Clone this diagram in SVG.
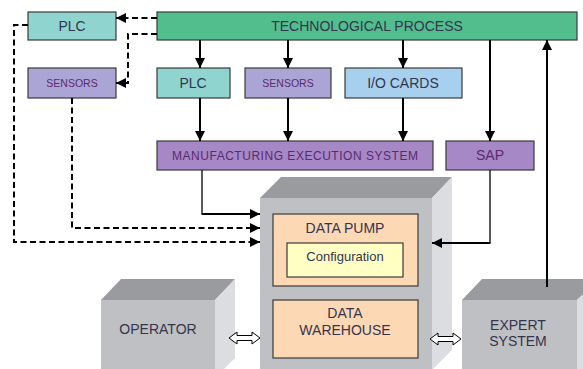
<svg xmlns="http://www.w3.org/2000/svg" width="583" height="369" viewBox="0 0 583 369">
<defs>
<style>
.box{stroke:#3a3a3a;stroke-width:1.2}
.tp{fill:#52BE8E}
.plc{fill:#90D4CF}
.sen{fill:#ABA5D5}
.mes{fill:#A688C6}
.io{fill:#A7D0EF}
.pump{fill:#FDD8B4}
.cfg{fill:#FFFFC4}
.ftop{fill:#9A9B9E}
.ffront{fill:#BFC0C3}
.fside{fill:#DCDDE0}
text{font-family:"Liberation Sans",Arial,sans-serif;fill:#34344e;text-anchor:middle}
.t13{font-size:14px}
.t10{font-size:10.5px}
.tm{fill:#5a2a6e}
.solid{fill:none;stroke:#000;stroke-width:2}
.thin{fill:none;stroke:#000;stroke-width:1.3}
.dash{fill:none;stroke:#000;stroke-width:2;stroke-dasharray:6,3.5}
.dbl{fill:#fff;stroke:#000;stroke-width:1}
</style>
<marker id="ah" viewBox="0 0 10 10" refX="10" refY="5" markerWidth="10" markerHeight="10" markerUnits="userSpaceOnUse" orient="auto">
<path d="M0,0 L10,5 L0,10 z" fill="#000"/>
</marker>
</defs>
<rect width="583" height="369" fill="#fff"/>

<g id="server">
<polygon class="ftop" points="260,198 281,177 452,177 432,198"/>
<polygon class="fside" points="432,198 452,177 452,350 432,370"/>
<rect class="ffront" x="260" y="198" width="172" height="175"/>
</g>
<g id="operator">
<polygon class="ftop" points="101,300 121,279 235,279 215,300"/>
<polygon class="fside" points="215,300 235,279 235,358 215,378"/>
<rect class="ffront" x="101" y="300" width="114" height="75"/>
<text class="t13" x="158" y="334">OPERATOR</text>
</g>
<g id="expert">
<polygon class="ftop" points="462,300 482,279 600,279 577,300"/>
<polygon class="fside" points="577,300 600,279 600,369 577,369"/>
<rect class="ffront" x="462" y="300" width="115" height="75"/>
<text class="t13" x="518" y="330">EXPERT</text>
<text class="t13" x="518" y="346">SYSTEM</text>
</g>

<g id="tp">
<rect class="box tp" x="157" y="12" width="420" height="28"/>
<text class="t13" x="367" y="31">TECHNOLOGICAL PROCESS</text>
</g>
<g id="plc-top">
<rect class="box plc" x="28" y="12" width="88" height="28"/>
<text class="t13" x="72" y="31">PLC</text>
</g>
<g id="sensors-left">
<rect class="box sen" x="28" y="68" width="88" height="30"/>
<text class="t10 tm" x="72" y="86.5">SENSORS</text>
</g>
<g id="plc-mid">
<rect class="box plc" x="157" y="68" width="73" height="30"/>
<text class="t13" x="193" y="88">PLC</text>
</g>
<g id="sensors-mid">
<rect class="box sen" x="245" y="68" width="86" height="30"/>
<text class="t10 tm" x="288" y="86.5">SENSORS</text>
</g>
<g id="io">
<rect class="box io" x="345" y="68" width="117" height="30"/>
<text class="t13" x="403" y="88">I/O CARDS</text>
</g>
<g id="mes">
<rect class="box mes" x="157" y="141" width="276" height="29"/>
<text class="tm" x="295" y="160" font-size="12" textLength="246">MANUFACTURING EXECUTION SYSTEM</text>
</g>
<g id="sap">
<rect class="box mes" x="446" y="141" width="88" height="29"/>
<text class="t13 tm" x="490" y="160">SAP</text>
</g>
<g id="datapump">
<rect class="box pump" x="273" y="214" width="145" height="72"/>
<text class="t13" x="345" y="233">DATA PUMP</text>
</g>
<g id="config">
<rect class="box cfg" x="287" y="243" width="116" height="34"/>
<text x="345" y="261" font-size="13">Configuration</text>
</g>
<g id="warehouse">
<rect class="box pump" x="273" y="300" width="145" height="58"/>
<text class="t13" x="345" y="318">DATA</text>
<text class="t13" x="345" y="335">WAREHOUSE</text>
</g>

<g id="connectors">
<path class="solid" d="M200,40 V68" marker-end="url(#ah)"/>
<path class="solid" d="M288,40 V68" marker-end="url(#ah)"/>
<path class="solid" d="M403,40 V68" marker-end="url(#ah)"/>
<path class="solid" d="M490,40 V141" marker-end="url(#ah)"/>
<path class="solid" d="M200,98 V141" marker-end="url(#ah)"/>
<path class="solid" d="M288,98 V141" marker-end="url(#ah)"/>
<path class="solid" d="M403,98 V141" marker-end="url(#ah)"/>
<path class="thin" d="M202,170 V214"/>
<path class="solid" d="M201.5,214 H260" marker-end="url(#ah)"/>
<path class="thin" d="M490,170 V243"/>
<path class="solid" d="M490.5,243 H432" marker-end="url(#ah)"/>
<path class="solid" d="M547,287 V40" marker-end="url(#ah)"/>
<path class="dash" d="M157,18 H116" marker-end="url(#ah)"/>
<path class="dash" d="M157,34 H128 V83 H116" marker-end="url(#ah)"/>
<path class="dash" d="M28,25 H14 V242 H260" marker-end="url(#ah)"/>
<path class="dash" d="M72,98 V228 H260" marker-end="url(#ah)"/>
<polygon class="dbl" points="229,338 237,332 237,335.5 252,335.5 252,332 260,338 252,344 252,340.5 237,340.5 237,344"/>
<polygon class="dbl" points="430,339 438,333 438,336.5 453,336.5 453,333 461,339 453,345 453,341.5 438,341.5 438,345"/>
</g>
</svg>
